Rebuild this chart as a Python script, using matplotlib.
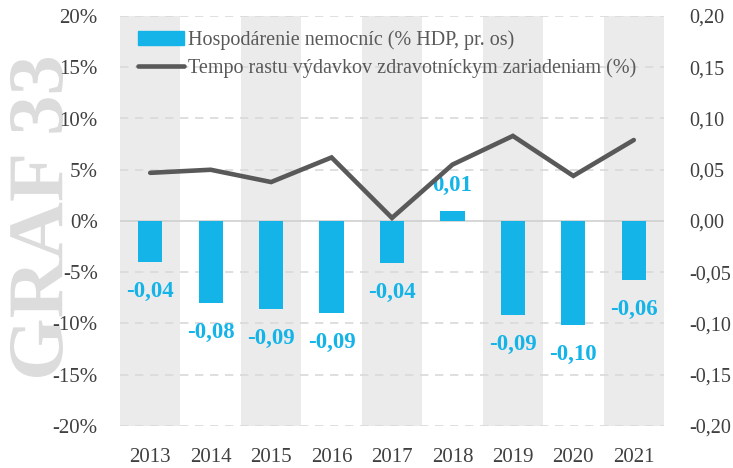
import matplotlib.pyplot as plt
from matplotlib.patches import Patch, PathPatch
from matplotlib.lines import Line2D
from matplotlib.textpath import TextPath
from matplotlib.font_manager import FontProperties
from matplotlib.transforms import Affine2D

years = ["2013", "2014", "2015", "2016", "2017", "2018", "2019", "2020", "2021"]
hospital_balance = [-0.040, -0.080, -0.086, -0.090, -0.041, 0.010, -0.092, -0.101, -0.058]  # % HDP, right axis
spending_growth = [4.7, 5.0, 3.8, 6.2, 0.3, 5.5, 8.3, 4.4, 7.9]  # %, left axis
bar_labels = ["-0,04", "-0,08", "-0,09", "-0,09", "-0,04", "0,01", "-0,09", "-0,10", "-0,06"]

left_ticks = [20, 15, 10, 5, 0, -5, -10, -15, -20]
right_ticks = [0.20, 0.15, 0.10, 0.05, 0.0, -0.05, -0.10, -0.15, -0.20]

blue = "#14B4E9"
dark = "#595959"
text_col = "#404040"

plt.rcParams["font.family"] = ["Liberation Serif", "DejaVu Serif"]

fig = plt.figure(figsize=(7.33, 4.68), dpi=100)
ax = fig.add_axes([120 / 733, 1 - 426 / 468, 544 / 733, 410 / 468])
ax2 = ax.twinx()
ax.set_zorder(ax2.get_zorder() + 1)
ax.patch.set_visible(False)

x = range(len(years))

# alternating grey bands
for i in x:
    if i % 2 == 0:
        ax2.axvspan(i - 0.5, i + 0.5, color="#EBEBEB", lw=0, zorder=0)

# grid lines
for t in right_ticks:
    if t == 0:
        ax2.axhline(0, color="#D0D0D0", lw=1.2, zorder=1)
    else:
        ax2.axhline(t, color="#D9D9D9", lw=1.2, ls=(0, (5, 4)), zorder=1)

# bars on right axis
ax2.bar(x, hospital_balance, width=0.4, color=blue, zorder=2)
for i, (v, lab) in enumerate(zip(hospital_balance, bar_labels)):
    if v < 0:
        ax2.annotate(lab, (i, v), xytext=(0, -19), textcoords="offset pixels",
                     ha="center", va="top", color=blue, fontsize=16.5, fontweight="bold")
    else:
        ax2.annotate(lab, (i, v), xytext=(0, 15), textcoords="offset pixels",
                     ha="center", va="bottom", color=blue, fontsize=16.5, fontweight="bold")

# line on left axis
ax.plot(x, spending_growth, color=dark, lw=3.3, solid_capstyle="round", solid_joinstyle="miter")

ax.set_xlim(-0.5, len(years) - 0.5)
ax.set_ylim(-20, 20)
ax2.set_ylim(-0.20, 0.20)

ax.set_yticks(left_ticks)
ax.set_yticklabels([f"{t}%" for t in left_ticks])
ax2.set_yticks(right_ticks)
ax2.set_yticklabels([f"{t:.2f}".replace(".", ",") for t in right_ticks])
ax.set_xticks(list(x))
ax.set_xticklabels(years)

ax.tick_params(axis="y", length=0, pad=16, labelsize=15, labelcolor=text_col)
ax2.tick_params(axis="y", length=0, pad=18, labelsize=14.5, labelcolor=text_col)
ax.tick_params(axis="x", length=0, pad=16, labelsize=15, labelcolor=text_col)
ax2.tick_params(axis="x", length=0)

for a in (ax, ax2):
    for s in a.spines.values():
        s.set_visible(False)

handles = [Patch(color=blue), Line2D([0], [0], color=dark, lw=3.3, solid_capstyle="round")]
labels = ["Hospodárenie nemocníc (% HDP, pr. os)",
          "Tempo rastu výdavkov zdravotníckym zariadeniam (%)"]
ax.legend(handles, labels, loc="upper left", bbox_to_anchor=(0.018, 0.985), frameon=False,
          fontsize=14.5, labelcolor=dark, handlelength=2.3, handletextpad=0.2,
          labelspacing=0.4, borderaxespad=0)

# watermark "GRAF 33", stretched into the box it fills in the original (pixel coords)
tp = TextPath((0, 0), "GRAF 33", size=100,
              prop=FontProperties(family="Liberation Serif", weight="bold"))
bb = tp.get_extents()
box_x0, box_x1, box_y0, box_y1 = 10, 63, 468 - 377, 468 - 58
tr = (Affine2D().translate(-bb.x0, -bb.y0).rotate_deg(90)
      .scale((box_x1 - box_x0) / bb.height, (box_y1 - box_y0) / bb.width)
      .translate(box_x1, box_y0))
fig.add_artist(PathPatch(tp, transform=tr, facecolor="#DCDCDC", lw=0, zorder=-1))

fig.savefig("out.png", dpi=100)
